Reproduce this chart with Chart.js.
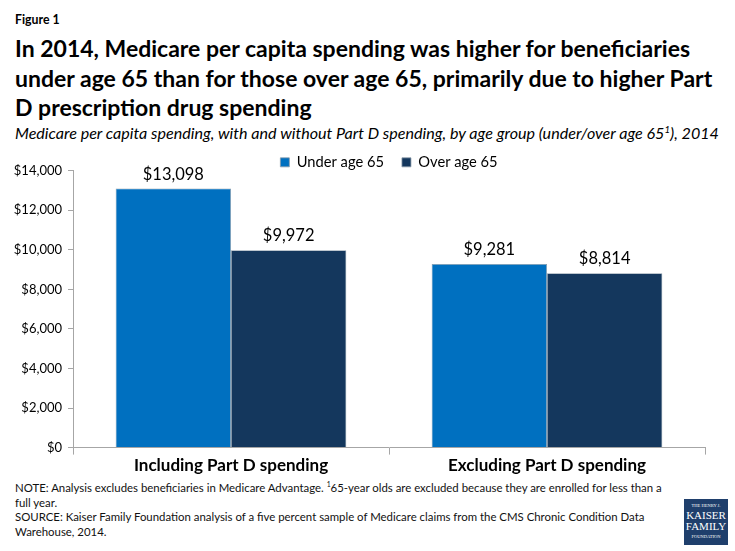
<!DOCTYPE html>
<html><head><meta charset="utf-8">
<script src="https://cdn.jsdelivr.net/npm/chart.js@4"></script>
<style>
html,body{margin:0;padding:0;background:#fff;width:735px;height:551px;overflow:hidden;font-family:Lato,sans-serif;color:#000}
.t{position:absolute;white-space:nowrap}
#fig{left:15px;top:12px;font-size:12.3px;font-weight:700}
#title{left:15px;top:34px;font-size:23px;font-weight:700;line-height:29.5px}
#sub{left:15px;top:123px;font-size:16.1px;font-style:italic}
sup{font-size:60%;line-height:0}
#notes{left:15px;top:481px;font-size:11.4px;line-height:14.6px;color:#111}
#logo{position:absolute;left:684px;top:499px;width:44px;height:46px;background:#1f3f6c;color:#fff;font-family:"Liberation Serif",serif;text-align:center;overflow:hidden}
#logo div{white-space:nowrap}
#c{position:absolute;left:0;top:134px;width:735px;height:343px}
</style></head><body>
<div class="t" id="fig">Figure 1</div>
<div class="t" id="title">In 2014, Medicare per capita spending was higher for beneficiaries<br>under age 65 than for those over age 65, primarily due to higher Part<br>D prescription drug spending</div>
<div class="t" id="sub">Medicare per capita spending, with and without Part D spending, by age group (under/over age 65<sup>1</sup>), 2014</div>
<div class="t" id="notes">NOTE: Analysis excludes beneficiaries in Medicare Advantage. <sup>1</sup>65-year olds are excluded because they are enrolled for less than a<br>full year.<br>SOURCE: Kaiser Family Foundation analysis of a five percent sample of Medicare claims from the CMS Chronic Condition Data<br>Warehouse, 2014.</div>
<div id="logo"><div style="font-size:4.5px;margin-top:4px">THE HENRY J.</div><div style="font-size:11px;line-height:11px;margin-top:2px">KAISER</div><div style="font-size:11px;line-height:11px">FAMILY</div><div style="font-size:4.5px;margin-top:2px">FOUNDATION</div></div>
<canvas id="c" width="735" height="343"></canvas>
<script>
const categories = ["Including Part D spending", "Excluding Part D spending"];
const underAge65 = [13098, 9281];
const overAge65 = [9972, 8814];
const seriesNames = ["Under age 65", "Over age 65"];
const seriesColors = ["#0070C0", "#14375D"];
const fmt = v => "$" + v.toLocaleString("en-US");
const FONT = "Lato, sans-serif";

const tightLegend = {
  id: "tightLegend",
  beforeLayout(chart) {
    const lg = chart.legend;
    if (lg && !lg._tight) {
      const f = lg.fit;
      lg.fit = function () { f.call(this); this.height -= 9; };
      lg._tight = true;
    }
  }
};

const valueLabels = {
  id: "valueLabels",
  afterDatasetsDraw(chart) {
    const ctx = chart.ctx;
    ctx.save();
    ctx.font = "16.5px " + FONT;
    ctx.fillStyle = "#000";
    ctx.textAlign = "center";
    ctx.textBaseline = "bottom";
    chart.data.datasets.forEach((ds, i) => {
      chart.getDatasetMeta(i).data.forEach((bar, j) => {
        ctx.fillText(fmt(ds.data[j]), bar.x, bar.y - 6);
      });
    });
    ctx.restore();
  }
};

new Chart(document.getElementById("c"), {
  type: "bar",
  data: {
    labels: categories,
    datasets: [
      {label: seriesNames[0], data: underAge65, backgroundColor: seriesColors[0], borderColor: "#8a9aa8", borderWidth: 0.75},
      {label: seriesNames[1], data: overAge65, backgroundColor: seriesColors[1], borderColor: "#8a9aa8", borderWidth: 0.75}
    ]
  },
  options: {
    responsive: false,
    animation: false,
    layout: {padding: {left: 0, right: 30, top: 3, bottom: 0}},
    datasets: {bar: {categoryPercentage: 0.73, barPercentage: 1}},
    plugins: {
      tooltip: {enabled: false},
      title: {display: false},
      legend: {
        display: true, position: "top", align: "center", fullSize: false,
        labels: {boxWidth: 9, boxHeight: 9, padding: 18, color: "#000", font: {family: FONT, size: 14.7}}
      }
    },
    scales: {
      x: {
        grid: {display: true, drawOnChartArea: false, drawTicks: true, tickLength: 7, color: "#a6a6a6", offset: true},
        border: {color: "#a6a6a6"},
        ticks: {color: "#000", padding: 1, font: {family: FONT, size: 17, weight: "700"}}
      },
      y: {
        min: 0, max: 14000,
        afterFit(s) { s.width = 73; },
        grid: {display: true, drawOnChartArea: false, drawTicks: true, tickLength: 5, color: "#a6a6a6"},
        border: {color: "#a6a6a6"},
        ticks: {stepSize: 2000, color: "#000", padding: 6, font: {family: FONT, size: 13}, callback: v => fmt(v)}
      }
    }
  },
  plugins: [tightLegend, valueLabels]
});
</script>
</body></html>
